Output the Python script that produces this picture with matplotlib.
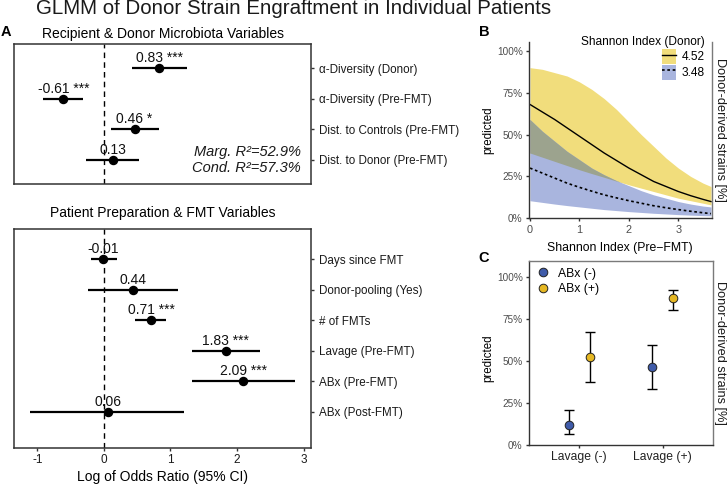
import matplotlib
matplotlib.use('Agg')
import matplotlib.pyplot as plt
import numpy as np
from matplotlib.lines import Line2D
from matplotlib.patches import Patch
from matplotlib.legend_handler import HandlerTuple

plt.rcParams['font.family'] = ['Liberation Sans', 'DejaVu Sans']

# ---------------- Panel A data ----------------
top_labels = ['α-Diversity (Donor)', 'α-Diversity (Pre-FMT)',
              'Dist. to Controls (Pre-FMT)', 'Dist. to Donor (Pre-FMT)']
top_est = [0.83, -0.61, 0.46, 0.13]
top_lo = [0.42, -0.91, 0.10, -0.27]
top_hi = [1.25, -0.32, 0.83, 0.53]
top_sig = ['***', '***', '*', '']

bot_labels = ['Days since FMT', 'Donor-pooling (Yes)', '# of FMTs',
              'Lavage (Pre-FMT)', 'ABx (Pre-FMT)', 'ABx (Post-FMT)']
bot_est = [-0.01, 0.44, 0.71, 1.83, 2.09, 0.06]
bot_lo = [-0.20, -0.24, 0.47, 1.33, 1.33, -1.11]
bot_hi = [0.19, 1.11, 0.94, 2.34, 2.87, 1.21]
bot_sig = ['', '', '***', '***', '***', '']

r2_marg = 52.9
r2_cond = 57.3
a_xticks = [-1, 0, 1, 2, 3]

# ---------------- Panel B data ----------------
b_x = [0.0, 0.25, 0.5, 0.75, 1.0, 1.25, 1.5, 1.75, 2.0, 2.25, 2.5, 2.75, 3.0, 3.25, 3.5, 3.66]
hi_fit = [0.68, 0.635, 0.59, 0.54, 0.49, 0.44, 0.39, 0.345, 0.30, 0.26, 0.22, 0.19, 0.16, 0.135, 0.113, 0.10]
hi_upper = [0.90, 0.89, 0.87, 0.85, 0.815, 0.77, 0.715, 0.65, 0.575, 0.50, 0.43, 0.36, 0.30, 0.25, 0.21, 0.19]
hi_lower = [0.39, 0.365, 0.34, 0.315, 0.29, 0.267, 0.245, 0.222, 0.20, 0.18, 0.16, 0.14, 0.12, 0.105, 0.09, 0.08]
lo_fit = [0.30, 0.27, 0.24, 0.21, 0.185, 0.162, 0.14, 0.122, 0.105, 0.09, 0.075, 0.063, 0.052, 0.042, 0.033, 0.028]
lo_upper = [0.59, 0.52, 0.46, 0.40, 0.35, 0.30, 0.26, 0.225, 0.195, 0.165, 0.14, 0.12, 0.10, 0.085, 0.073, 0.068]
lo_lower = [0.105, 0.095, 0.085, 0.076, 0.068, 0.06, 0.052, 0.046, 0.04, 0.035, 0.03, 0.026, 0.022, 0.019, 0.016, 0.015]
b_groups = ['4.52', '3.48']
b_xticks = [0, 1, 2, 3]
pct_ticks = [0, 0.25, 0.5, 0.75, 1.0]
pct_labels = ['0%', '25%', '50%', '75%', '100%']

# ---------------- Panel C data ----------------
c_cats = ['Lavage (-)', 'Lavage (+)']
c_groups = ['ABx (-)', 'ABx (+)']
neg_pred = [0.121, 0.462]
neg_lo = [0.064, 0.333]
neg_hi = [0.208, 0.595]
pos_pred = [0.526, 0.873]
pos_lo = [0.375, 0.800]
pos_hi = [0.670, 0.924]

# ---------------- styling ----------------
YEL_BAND = '#F1DD7C'
BLU_BAND = '#A9B5DE'
OVL_BAND = '#9CA38E'
BLU_PT = '#3F5BA9'
YEL_PT = '#E5B722'
DARK = '#333333'
GREY = '#7a7a7a'
TICKC = '#4d4d4d'

W, H = 727, 484
fig = plt.figure(figsize=(W / 100, H / 100), dpi=100)


def rect(x0, y0, x1, y1):
    return [x0 / W, 1 - y1 / H, (x1 - x0) / W, (y1 - y0) / H]


def ftxt(x, y, s, **kw):
    fig.text(x / W, 1 - y / H, s, **kw)


# ---------------- Panel A ----------------
def forest(ax, labels, est, lo, hi, sig, ylim, show_x):
    pos = np.arange(1, len(labels) + 1)
    ax.axvline(0, color='black', lw=1.0, ls=(0, (4, 3)), zorder=1)
    ax.hlines(pos, lo, hi, color='black', lw=1.6, zorder=2)
    ax.plot(est, pos, 'o', color='black', ms=5.8, zorder=3)
    for e, p, s in zip(est, pos, sig):
        txt = f'{e:.2f}' + (f' {s}' if s else '')
        ax.annotate(txt, (e, p), xytext=(0, 4.3), textcoords='offset points',
                    ha='center', va='baseline', fontsize=10, color='#111')
    ax.set_xlim(-1.35, 3.11)
    ax.set_ylim(*ylim)
    ax.set_yticks(pos)
    ax.set_yticklabels(labels)
    ax.yaxis.tick_right()
    ax.tick_params(axis='y', length=2.5, width=1, color=DARK, pad=3.5,
                   labelsize=8.4, labelcolor='#1a1a1a')
    for sp in ax.spines.values():
        sp.set_color(DARK)
        sp.set_linewidth(1.1)
    if show_x:
        ax.set_xticks(a_xticks)
        ax.set_xticklabels([str(t) for t in a_xticks])
        ax.tick_params(axis='x', length=2.5, width=1, color=DARK, pad=1.5,
                       labelsize=8.5, labelcolor='#1a1a1a')
    else:
        ax.set_xticks([])


axA1 = fig.add_axes(rect(14, 44, 311, 184))
forest(axA1, top_labels, top_est, top_lo, top_hi, top_sig, (4.8, 0.2), False)
axA1.text(0.965, 0.20, f'Marg. R²={r2_marg}%', transform=axA1.transAxes,
          ha='right', va='baseline', style='italic', fontsize=10.5, color='#1a1a1a')
axA1.text(0.965, 0.085, f'Cond. R²={r2_cond}%', transform=axA1.transAxes,
          ha='right', va='baseline', style='italic', fontsize=10.5, color='#1a1a1a')

axA2 = fig.add_axes(rect(14, 229, 311, 448))
forest(axA2, bot_labels, bot_est, bot_lo, bot_hi, bot_sig, (7.2, 0.0), True)
axA2.set_xlabel('Log of Odds Ratio (95% CI)', fontsize=10, labelpad=3)

ftxt(162.5, 34.3, 'Recipient & Donor Microbiota Variables', ha='center', va='center', fontsize=10)
ftxt(162.5, 212.7, 'Patient Preparation & FMT Variables', ha='center', va='center', fontsize=10)

# ---------------- Panel B ----------------
axB = fig.add_axes(rect(529, 41.7, 712, 218.3))
hl = np.array(hi_lower); hu = np.array(hi_upper)
ll = np.array(lo_lower); lu = np.array(lo_upper)
axB.fill_between(b_x, hl, hu, color=YEL_BAND, lw=0)
axB.fill_between(b_x, ll, lu, color=BLU_BAND, lw=0)
ov_lo = np.maximum(hl, ll)
ov_hi = np.minimum(hu, lu)
axB.fill_between(b_x, ov_lo, ov_hi, where=ov_hi > ov_lo, interpolate=True,
                 color=OVL_BAND, lw=0)
axB.plot(b_x, hi_fit, color='black', lw=1.0)
axB.plot(b_x, lo_fit, color='black', lw=1.2, ls=(0, (1.6, 1.6)))
axB.set_xlim(-0.02, 3.68)
axB.set_ylim(0, 1.055)
axB.set_xticks(b_xticks)
axB.set_yticks(pct_ticks)
axB.set_yticklabels(pct_labels)
axB.tick_params(axis='both', length=2.5, width=1, color=DARK, pad=2,
                labelsize=7.2, labelcolor=TICKC)
axB.tick_params(axis='x', labelsize=7.8)
axB.spines['top'].set_visible(False)
axB.spines['right'].set_color(GREY)
axB.spines['left'].set_color(DARK)
axB.spines['bottom'].set_color(DARK)
for sp in axB.spines.values():
    sp.set_linewidth(1.0)
axB.set_xlabel('Shannon Index (Pre\u2212FMT)', fontsize=8.8)
axB.xaxis.set_label_coords(0.497, -0.133)
axB.set_ylabel('predicted', fontsize=8.3)
axB.yaxis.set_label_coords(-0.19, 0.5)

hB = [(Patch(fc=YEL_BAND, ec='none'), Line2D([], [], color='black', lw=1.0)),
      (Patch(fc=BLU_BAND, ec='none'), Line2D([], [], color='black', lw=1.2, ls=(0, (1.6, 1.6))))]
legB = axB.legend(hB, b_groups, title='Shannon Index (Donor)', loc='upper right',
                  bbox_to_anchor=(0.962, 1.03), borderaxespad=0, borderpad=0,
                  frameon=False, handler_map={tuple: HandlerTuple(ndivide=1, pad=0)},
                  handlelength=1.2, handleheight=1.55, handletextpad=0.5,
                  labelspacing=0.05, fontsize=8.6, title_fontsize=8.6)
legB._legend_box.align = 'right'

# ---------------- Panel C ----------------
axC = fig.add_axes(rect(529, 260.5, 713, 445))
cpos = np.arange(1, len(c_cats) + 1)
dodge = 0.125
for offs, pr, lo, hi, col, lab in [(-dodge, neg_pred, neg_lo, neg_hi, BLU_PT, c_groups[0]),
                                  (dodge, pos_pred, pos_lo, pos_hi, YEL_PT, c_groups[1])]:
    pr = np.array(pr); lo = np.array(lo); hi = np.array(hi)
    axC.errorbar(cpos + offs, pr, yerr=[pr - lo, hi - pr], fmt='none', ecolor='black',
                 elinewidth=1.0, capsize=3.6, capthick=1.0, zorder=2)
    axC.plot(cpos + offs, pr, 'o', mfc=col, mec='#222', mew=0.7, ms=6.2,
             label=lab, zorder=3, ls='none')
axC.set_xlim(0.4, 2.6)
axC.set_ylim(0, 1.097)
axC.set_xticks(cpos)
axC.set_xticklabels(c_cats)
axC.set_yticks(pct_ticks)
axC.set_yticklabels(pct_labels)
axC.tick_params(axis='both', length=2.5, width=1, color=DARK, pad=2,
                labelsize=7.2, labelcolor=TICKC)
axC.tick_params(axis='x', labelsize=8.7, labelcolor='#222')
axC.spines['top'].set_color(GREY)
axC.spines['right'].set_color(GREY)
axC.spines['left'].set_color(DARK)
axC.spines['bottom'].set_color(DARK)
for sp in axC.spines.values():
    sp.set_linewidth(1.0)
axC.set_ylabel('predicted', fontsize=8.3)
axC.yaxis.set_label_coords(-0.19, 0.473)
axC.legend(loc='upper left', bbox_to_anchor=(0.041, 0.962), borderaxespad=0,
           borderpad=0, frameon=False, handlelength=1.0, handletextpad=0.75,
           labelspacing=0.3, fontsize=8.8)

# strip labels
ftxt(719.5, 130, 'Donor-derived strains [%]', rotation=270, ha='center', va='center',
     fontsize=9.2, color='#1a1a1a')
ftxt(719.5, 353, 'Donor-derived strains [%]', rotation=270, ha='center', va='center',
     fontsize=9.2, color='#1a1a1a')

# panel letters and title
ftxt(6, 32, 'A', ha='center', va='center', fontsize=10.5, fontweight='bold')
ftxt(484, 32, 'B', ha='center', va='center', fontsize=10.5, fontweight='bold')
ftxt(483.5, 258, 'C', ha='center', va='center', fontsize=10.5, fontweight='bold')
ftxt(36, 13.5, 'GLMM of Donor Strain Engraftment in Individual Patients',
     ha='left', va='baseline', fontsize=14.8, color='#1a1a1a')

fig.savefig('out.png', dpi=100)
